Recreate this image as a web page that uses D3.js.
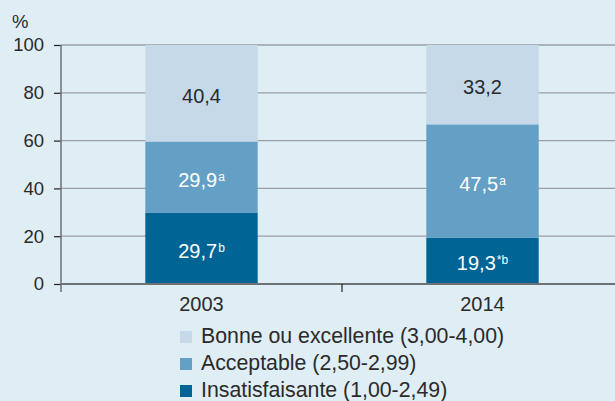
<!DOCTYPE html>
<html>
<head>
<meta charset="utf-8">
<script src="https://cdn.jsdelivr.net/npm/d3@7"></script>
<style>
  html, body { margin: 0; padding: 0; background: #dfedf5; }
  svg { display: block; font-family: "Liberation Sans", Arial, sans-serif; }
</style>
</head>
<body>
<svg id="chart" width="615" height="401"></svg>
<script>
// Survey years
const years = ["2003", "2014"];
// Shares (%) per rating band, stacked bottom to top
const insatisfaisante = [29.7, 19.3];
const acceptable = [29.9, 47.5];
const bonne = [40.4, 33.2];
// Superscript notes per segment
const insatisfaisanteNotes = ["b", "*b"];
const acceptableNotes = ["a", "a"];
const bonneNotes = ["", ""];
// Series names (legend, top to bottom)
const seriesNames = [
  "Bonne ou excellente (3,00-4,00)",
  "Acceptable (2,50-2,99)",
  "Insatisfaisante (1,00-2,49)"
];
const yTicks = [0, 20, 40, 60, 80, 100];

const colors = {
  bonne: "#c6d9e8",
  acceptable: "#64a0c6",
  insatisfaisante: "#006494"
};

(function () {
  const svg = d3.select("#chart");
  const mLeft = 61, mRight = 623, mTop = 45, mBottom = 284;
  const ink = "#2a2a2a";

  const x = d3.scaleBand().domain(years).range([mLeft, mRight]).paddingInner(0.6).paddingOuter(0.3);
  const y = d3.scaleLinear().domain([0, 100]).range([mBottom, mTop]);

  // Horizontal grid lines
  svg.append("g")
    .selectAll("line")
    .data(yTicks.filter(d => d > 0))
    .join("line")
    .attr("x1", mLeft).attr("x2", 615)
    .attr("y1", d => y(d)).attr("y2", d => y(d))
    .attr("stroke", "#9a9fa3").attr("stroke-width", 1.3);

  // Stack the series
  const rows = years.map((yr, i) => ({
    year: yr,
    insatisfaisante: insatisfaisante[i],
    acceptable: acceptable[i],
    bonne: bonne[i]
  }));
  const keys = ["insatisfaisante", "acceptable", "bonne"];
  const notes = { insatisfaisante: insatisfaisanteNotes, acceptable: acceptableNotes, bonne: bonneNotes };
  const stacked = d3.stack().keys(keys)(rows);

  const layer = svg.append("g").selectAll("g").data(stacked).join("g")
    .attr("fill", d => colors[d.key]);

  layer.selectAll("rect")
    .data(d => d)
    .join("rect")
    .attr("x", d => x(d.data.year))
    .attr("width", x.bandwidth())
    .attr("y", d => y(d[1]))
    .attr("height", d => y(d[0]) - y(d[1]));

  // Segment value labels
  stacked.forEach(s => {
    s.forEach((d, i) => {
      const cx = x(d.data.year) + x.bandwidth() / 2;
      const cy = (y(d[0]) + y(d[1])) / 2;
      const val = d.data[s.key];
      const note = notes[s.key][i];
      const t = svg.append("text")
        .attr("x", cx).attr("y", cy + 9.5)
        .attr("text-anchor", "middle")
        .attr("font-size", 20)
        .attr("fill", s.key === "bonne" ? ink : "#ffffff");
      t.append("tspan").text(d3.format(".1f")(val).replace(".", ","));
      if (note) {
        t.append("tspan").attr("font-size", 12).attr("dy", -6).attr("dx", 1).text(note);
      }
    });
  });

  // Y axis
  const yAxis = svg.append("g")
    .attr("transform", `translate(${mLeft},0)`)
    .call(d3.axisLeft(y).tickValues(yTicks).tickSize(7).tickPadding(10));
  yAxis.select(".domain").remove();
  yAxis.selectAll(".tick line").attr("stroke", "#231f20").attr("stroke-width", 1.2);
  yAxis.selectAll(".tick text")
    .attr("font-size", 18.5).attr("fill", ink)
    .attr("font-family", "'Liberation Sans', Arial, sans-serif");
  svg.append("line")
    .attr("x1", mLeft).attr("x2", mLeft).attr("y1", mTop).attr("y2", 292)
    .attr("stroke", "#6b7175").attr("stroke-width", 1.5);

  // Baseline
  svg.append("line")
    .attr("x1", mLeft).attr("x2", 615).attr("y1", mBottom).attr("y2", mBottom)
    .attr("stroke", "#6b7175").attr("stroke-width", 1.8);

  // Category boundary tick
  const midX = (x(years[0]) + x.bandwidth() + x(years[1])) / 2;
  svg.append("line")
    .attr("x1", midX).attr("x2", midX)
    .attr("y1", mBottom).attr("y2", 292)
    .attr("stroke", "#231f20").attr("stroke-width", 1.2);

  // X labels
  svg.append("g").selectAll("text").data(years).join("text")
    .attr("x", d => x(d) + x.bandwidth() / 2)
    .attr("y", 311)
    .attr("text-anchor", "middle")
    .attr("font-size", 20).attr("fill", ink)
    .text(d => d);

  // Unit label
  svg.append("text").attr("x", 12).attr("y", 28)
    .attr("font-size", 18.5).attr("fill", ink).text("%");

  // Legend
  const legendColors = [colors.bonne, colors.acceptable, colors.insatisfaisante];
  const lg = svg.append("g").selectAll("g").data(seriesNames).join("g")
    .attr("transform", (d, i) => `translate(180,${343 + i * 27})`);
  lg.append("rect").attr("x", 0).attr("y", -12).attr("width", 12).attr("height", 12)
    .attr("fill", (d, i) => legendColors[i]);
  lg.append("text").attr("x", 21).attr("y", 0)
    .attr("font-size", 21.3).attr("fill", ink)
    .text(d => d);
})();
</script>
</body>
</html>
